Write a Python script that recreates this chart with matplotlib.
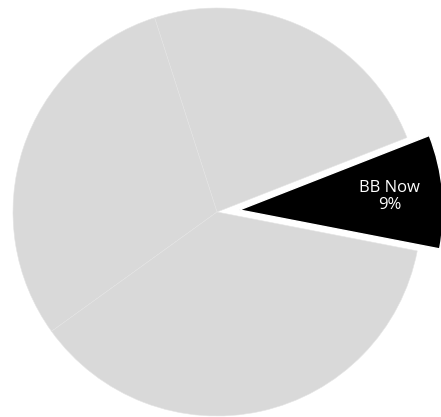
import numpy as np
import matplotlib
matplotlib.use("Agg")
import matplotlib.pyplot as plt

# Share of each segment (percent), drawn counter-clockwise
categories = ["BB Now", "Segment B", "Segment C", "Segment D"]
values = [9, 24, 30, 37]
colors = ["#000000", "#d9d9d9", "#d9d9d9", "#d9d9d9"]
explode = [0.11, 0, 0, 0]

W, H, DPI = 441, 417, 100
fig = plt.figure(figsize=(W / DPI, H / DPI), dpi=DPI)
ax = fig.add_axes([0, 0, 1, 1])

wedges, _ = ax.pie(
    values,
    colors=colors,
    explode=explode,
    startangle=-11,
    counterclock=True,
    radius=1.0,
    wedgeprops=dict(edgecolor="#e4e4e4", linewidth=0.4),
)
wedges[0].set_edgecolor("white")
wedges[0].set_linewidth(1.0)

# Label inside the highlighted wedge
w = wedges[0]
mid = np.deg2rad((w.theta1 + w.theta2) / 2)
r_lab = 0.74
cx, cy = w.center
ax.text(cx + r_lab * np.cos(mid), cy + r_lab * np.sin(mid),
        f"{categories[0]}\n{values[0]}%", ha="center", va="center",
        color="white", fontsize=12, family="Open Sans", linespacing=1.05)

# Place the pie centre and radius in pixel terms
cxp, cyp, rp = 217, 212, 204
ax.set_aspect("auto")
ax.set_xlim(-cxp / rp, (W - cxp) / rp)
ax.set_ylim(-(H - cyp) / rp, cyp / rp)
ax.axis("off")

fig.savefig("out.png", dpi=DPI)
